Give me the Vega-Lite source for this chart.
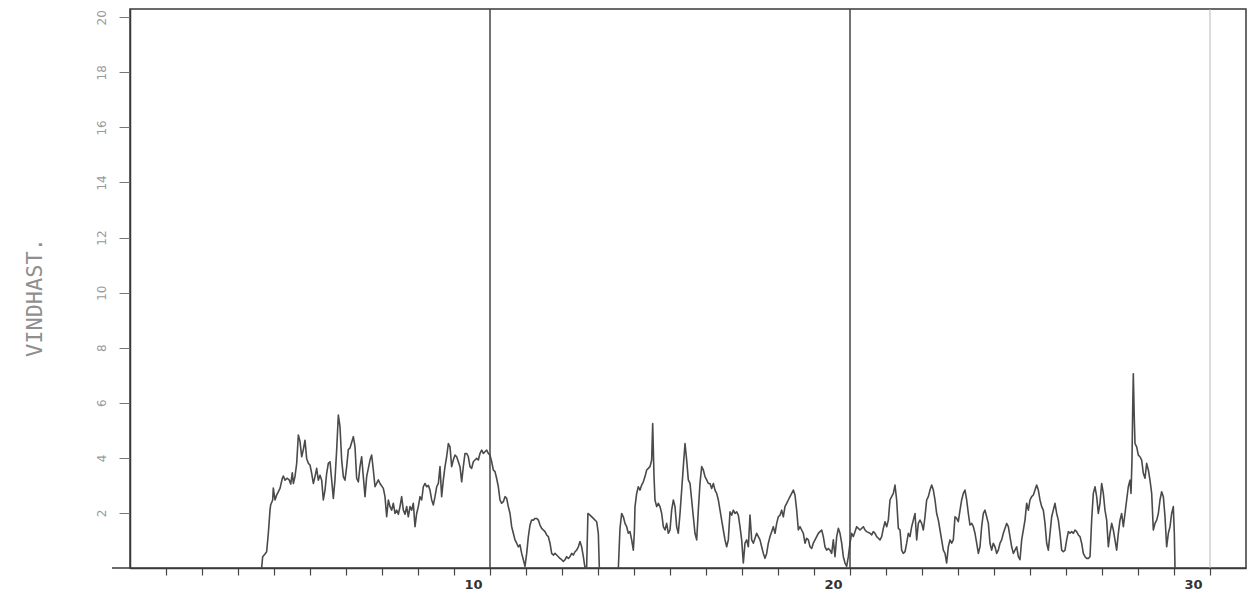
{
  "$schema": "https://vega.github.io/schema/vega-lite/v6.json",
  "width": 1116,
  "height": 559,
  "autosize": {"type": "none"},
  "padding": {"left": 130, "top": 9, "right": 8, "bottom": 32},
  "background": "white",
  "config": {"view": {"stroke": "#3a3a3a", "strokeWidth": 1.5}},
  "datasets": {
    "dividers": [{"day": 10}, {"day": 20}],
    "faint": [{"day": 30}],
    "stub": [{"a": -0.5, "b": 0}],
    "wind": [
      {"d":3.657,"v":0,"s":1},{"d":3.685,"v":0.41,"s":1},{"d":3.75,"v":0.51,"s":1},{"d":3.796,"v":0.59,"s":1},{"d":3.843,"v":1.27,"s":1},{"d":3.889,"v":2.1,"s":1},{"d":3.907,"v":2.29,"s":1},{"d":3.963,"v":2.47,"s":1},{"d":3.981,"v":2.9,"s":1},{"d":4.028,"v":2.47,"s":1},{"d":4.074,"v":2.65,"s":1},{"d":4.167,"v":2.89,"s":1},{"d":4.231,"v":3.26,"s":1},{"d":4.259,"v":3.34,"s":1},{"d":4.306,"v":3.19,"s":1},{"d":4.37,"v":3.26,"s":1},{"d":4.426,"v":3.19,"s":1},{"d":4.463,"v":3.05,"s":1},{"d":4.509,"v":3.46,"s":1},{"d":4.537,"v":3.07,"s":1},{"d":4.583,"v":3.32,"s":1},{"d":4.63,"v":3.8,"s":1},{"d":4.676,"v":4.83,"s":1},{"d":4.722,"v":4.6,"s":1},{"d":4.769,"v":4.04,"s":1},{"d":4.815,"v":4.3,"s":1},{"d":4.861,"v":4.64,"s":1},{"d":4.907,"v":3.98,"s":1},{"d":4.954,"v":3.8,"s":1},{"d":5.0,"v":3.74,"s":1},{"d":5.046,"v":3.44,"s":1},{"d":5.093,"v":3.07,"s":1},{"d":5.139,"v":3.32,"s":1},{"d":5.185,"v":3.62,"s":1},{"d":5.231,"v":3.19,"s":1},{"d":5.278,"v":3.37,"s":1},{"d":5.324,"v":3.19,"s":1},{"d":5.37,"v":2.47,"s":1},{"d":5.417,"v":2.83,"s":1},{"d":5.463,"v":3.44,"s":1},{"d":5.509,"v":3.8,"s":1},{"d":5.556,"v":3.86,"s":1},{"d":5.602,"v":3.19,"s":1},{"d":5.648,"v":2.53,"s":1},{"d":5.694,"v":3.2,"s":1},{"d":5.741,"v":4.3,"s":1},{"d":5.787,"v":5.55,"s":1},{"d":5.833,"v":5.13,"s":1},{"d":5.88,"v":3.92,"s":1},{"d":5.926,"v":3.32,"s":1},{"d":5.972,"v":3.19,"s":1},{"d":6.019,"v":3.68,"s":1},{"d":6.065,"v":4.3,"s":1},{"d":6.111,"v":4.36,"s":1},{"d":6.204,"v":4.77,"s":1},{"d":6.25,"v":4.4,"s":1},{"d":6.296,"v":3.26,"s":1},{"d":6.343,"v":3.13,"s":1},{"d":6.389,"v":3.68,"s":1},{"d":6.435,"v":4.04,"s":1},{"d":6.481,"v":3.32,"s":1},{"d":6.528,"v":2.59,"s":1},{"d":6.574,"v":3.32,"s":1},{"d":6.667,"v":3.92,"s":1},{"d":6.713,"v":4.1,"s":1},{"d":6.759,"v":3.56,"s":1},{"d":6.806,"v":2.95,"s":1},{"d":6.898,"v":3.2,"s":1},{"d":6.944,"v":3.07,"s":1},{"d":7.037,"v":2.89,"s":1},{"d":7.083,"v":2.59,"s":1},{"d":7.13,"v":1.86,"s":1},{"d":7.176,"v":2.47,"s":1},{"d":7.222,"v":2.23,"s":1},{"d":7.269,"v":2.1,"s":1},{"d":7.315,"v":2.35,"s":1},{"d":7.361,"v":1.98,"s":1},{"d":7.407,"v":2.1,"s":1},{"d":7.454,"v":1.95,"s":1},{"d":7.5,"v":2.23,"s":1},{"d":7.546,"v":2.59,"s":1},{"d":7.593,"v":2.1,"s":1},{"d":7.639,"v":1.95,"s":1},{"d":7.685,"v":2.23,"s":1},{"d":7.731,"v":1.86,"s":1},
      {"d":7.778,"v":2.23,"s":1},{"d":7.824,"v":2.1,"s":1},{"d":7.87,"v":2.35,"s":1},{"d":7.917,"v":1.5,"s":1},{"d":7.963,"v":1.98,"s":1},{"d":8.009,"v":2.23,"s":1},{"d":8.056,"v":2.59,"s":1},{"d":8.102,"v":2.47,"s":1},{"d":8.148,"v":2.95,"s":1},{"d":8.194,"v":3.07,"s":1},{"d":8.241,"v":2.95,"s":1},{"d":8.287,"v":3.0,"s":1},{"d":8.333,"v":2.83,"s":1},{"d":8.38,"v":2.47,"s":1},{"d":8.426,"v":2.29,"s":1},{"d":8.472,"v":2.59,"s":1},{"d":8.519,"v":2.95,"s":1},{"d":8.565,"v":3.07,"s":1},{"d":8.611,"v":3.68,"s":1},{"d":8.657,"v":2.59,"s":1},{"d":8.704,"v":3.2,"s":1},{"d":8.75,"v":3.68,"s":1},{"d":8.796,"v":4.04,"s":1},{"d":8.843,"v":4.52,"s":1},{"d":8.889,"v":4.4,"s":1},{"d":8.935,"v":3.68,"s":1},{"d":8.981,"v":3.92,"s":1},{"d":9.028,"v":4.1,"s":1},{"d":9.074,"v":4.04,"s":1},{"d":9.12,"v":3.86,"s":1},{"d":9.167,"v":3.68,"s":1},{"d":9.213,"v":3.13,"s":1},{"d":9.259,"v":3.68,"s":1},{"d":9.306,"v":4.16,"s":1},{"d":9.352,"v":4.16,"s":1},{"d":9.398,"v":4.04,"s":1},{"d":9.444,"v":3.68,"s":1},{"d":9.491,"v":3.62,"s":1},{"d":9.537,"v":3.86,"s":1},{"d":9.583,"v":3.92,"s":1},{"d":9.63,"v":3.98,"s":1},{"d":9.676,"v":3.92,"s":1},{"d":9.722,"v":4.16,"s":1},{"d":9.769,"v":4.28,"s":1},{"d":9.815,"v":4.16,"s":1},{"d":9.861,"v":4.22,"s":1},{"d":9.907,"v":4.28,"s":1},{"d":9.954,"v":4.16,"s":1},{"d":10.0,"v":4.1,"s":1},{"d":10.046,"v":3.86,"s":1},{"d":10.093,"v":3.56,"s":1},{"d":10.139,"v":3.5,"s":1},{"d":10.185,"v":3.25,"s":1},{"d":10.231,"v":2.95,"s":1},{"d":10.278,"v":2.47,"s":1},{"d":10.324,"v":2.35,"s":1},{"d":10.37,"v":2.41,"s":1},{"d":10.417,"v":2.59,"s":1},{"d":10.463,"v":2.53,"s":1},{"d":10.509,"v":2.23,"s":1},{"d":10.556,"v":1.98,"s":1},{"d":10.602,"v":1.5,"s":1},{"d":10.648,"v":1.26,"s":1},{"d":10.694,"v":1.02,"s":1},{"d":10.741,"v":0.9,"s":1},{"d":10.787,"v":0.77,"s":1},{"d":10.833,"v":0.84,"s":1},{"d":10.88,"v":0.53,"s":1},{"d":10.926,"v":0.3,"s":1},{"d":10.972,"v":0.06,"s":1},{"d":11.019,"v":0.53,"s":1},{"d":11.065,"v":1.14,"s":1},{"d":11.111,"v":1.56,"s":1},{"d":11.157,"v":1.74,"s":1},{"d":11.204,"v":1.74,"s":1},{"d":11.25,"v":1.8,"s":1},{"d":11.296,"v":1.8,"s":1},{"d":11.343,"v":1.74,"s":1},{"d":11.389,"v":1.56,"s":1},{"d":11.435,"v":1.44,"s":1},{"d":11.481,"v":1.38,"s":1},{"d":11.528,"v":1.32,"s":1},{"d":11.574,"v":1.2,"s":1},{"d":11.62,"v":1.14,"s":1},{"d":11.667,"v":0.9,"s":1},{"d":11.713,"v":0.53,"s":1},{"d":11.759,"v":0.47,"s":1},{"d":11.806,"v":0.53,"s":1},{"d":11.852,"v":0.47,"s":1},{"d":11.898,"v":0.41,"s":1},{"d":11.944,"v":0.35,"s":1},{"d":11.991,"v":0.3,"s":1},{"d":12.037,"v":0.24,"s":1},{"d":12.083,"v":0.3,"s":1},{"d":12.13,"v":0.41,"s":1},{"d":12.176,"v":0.35,"s":1},
      {"d":12.222,"v":0.41,"s":1},{"d":12.269,"v":0.53,"s":1},{"d":12.315,"v":0.47,"s":1},{"d":12.361,"v":0.59,"s":1},{"d":12.407,"v":0.65,"s":1},{"d":12.454,"v":0.77,"s":1},{"d":12.5,"v":0.96,"s":1},{"d":12.546,"v":0.77,"s":1},{"d":12.593,"v":0.41,"s":1},{"d":12.639,"v":0.0,"s":1},{"d":12.685,"v":0.05,"s":1},{"d":12.72,"v":1.98,"s":1},{"d":12.778,"v":1.92,"s":1},{"d":12.87,"v":1.8,"s":1},{"d":12.963,"v":1.68,"s":1},{"d":13.009,"v":1.26,"s":1},{"d":13.037,"v":0.0,"s":1},
      {"d":13.565,"v":0,"s":2},{"d":13.611,"v":1.44,"s":2},{"d":13.657,"v":1.98,"s":2},{"d":13.704,"v":1.86,"s":2},{"d":13.75,"v":1.62,"s":2},{"d":13.796,"v":1.5,"s":2},{"d":13.843,"v":1.26,"s":2},{"d":13.889,"v":1.32,"s":2},{"d":13.935,"v":1.02,"s":2},{"d":13.981,"v":0.65,"s":2},{"d":14.009,"v":1.26,"s":2},{"d":14.028,"v":2.23,"s":2},{"d":14.074,"v":2.71,"s":2},{"d":14.12,"v":2.95,"s":2},{"d":14.167,"v":2.83,"s":2},{"d":14.213,"v":3.01,"s":2},{"d":14.259,"v":3.13,"s":2},{"d":14.306,"v":3.32,"s":2},{"d":14.352,"v":3.56,"s":2},{"d":14.398,"v":3.62,"s":2},{"d":14.444,"v":3.68,"s":2},{"d":14.491,"v":3.92,"s":2},{"d":14.519,"v":5.25,"s":2},{"d":14.556,"v":3.32,"s":2},{"d":14.583,"v":2.47,"s":2},{"d":14.63,"v":2.23,"s":2},{"d":14.676,"v":2.35,"s":2},{"d":14.722,"v":2.23,"s":2},{"d":14.769,"v":1.98,"s":2},{"d":14.815,"v":1.5,"s":2},{"d":14.861,"v":1.38,"s":2},{"d":14.907,"v":1.62,"s":2},{"d":14.954,"v":1.26,"s":2},{"d":15.0,"v":1.38,"s":2},{"d":15.046,"v":2.1,"s":2},{"d":15.093,"v":2.47,"s":2},{"d":15.139,"v":2.23,"s":2},{"d":15.185,"v":1.5,"s":2},{"d":15.231,"v":1.26,"s":2},{"d":15.278,"v":1.98,"s":2},{"d":15.324,"v":2.83,"s":2},{"d":15.37,"v":3.68,"s":2},{"d":15.417,"v":4.52,"s":2},{"d":15.463,"v":3.92,"s":2},{"d":15.509,"v":3.2,"s":2},{"d":15.556,"v":3.07,"s":2},{"d":15.602,"v":2.47,"s":2},{"d":15.648,"v":1.86,"s":2},{"d":15.694,"v":1.26,"s":2},{"d":15.741,"v":1.02,"s":2},{"d":15.787,"v":2.1,"s":2},{"d":15.833,"v":3.07,"s":2},{"d":15.88,"v":3.68,"s":2},{"d":15.926,"v":3.56,"s":2},{"d":15.972,"v":3.32,"s":2},{"d":16.019,"v":3.2,"s":2},{"d":16.065,"v":3.07,"s":2},{"d":16.111,"v":3.07,"s":2},{"d":16.157,"v":2.89,"s":2},{"d":16.204,"v":3.07,"s":2},{"d":16.25,"v":2.83,"s":2},{"d":16.296,"v":2.71,"s":2},{"d":16.343,"v":2.47,"s":2},{"d":16.389,"v":2.1,"s":2},{"d":16.435,"v":1.74,"s":2},{"d":16.481,"v":1.38,"s":2},{"d":16.528,"v":1.02,"s":2},{"d":16.574,"v":0.77,"s":2},{"d":16.62,"v":1.02,"s":2},
      {"d":16.667,"v":2.04,"s":2},{"d":16.713,"v":1.92,"s":2},{"d":16.759,"v":2.1,"s":2},{"d":16.806,"v":1.98,"s":2},{"d":16.852,"v":2.04,"s":2},{"d":16.898,"v":1.92,"s":2},{"d":16.944,"v":1.5,"s":2},{"d":16.991,"v":1.02,"s":2},{"d":17.037,"v":0.18,"s":2},{"d":17.083,"v":0.9,"s":2},{"d":17.13,"v":1.02,"s":2},{"d":17.176,"v":0.77,"s":2},{"d":17.222,"v":1.92,"s":2},{"d":17.269,"v":1.02,"s":2},{"d":17.315,"v":0.9,"s":2},{"d":17.361,"v":1.08,"s":2},{"d":17.407,"v":1.26,"s":2},{"d":17.454,"v":1.14,"s":2},{"d":17.5,"v":1.02,"s":2},{"d":17.546,"v":0.77,"s":2},{"d":17.593,"v":0.53,"s":2},{"d":17.639,"v":0.35,"s":2},{"d":17.685,"v":0.53,"s":2},{"d":17.731,"v":0.9,"s":2},{"d":17.778,"v":1.14,"s":2},{"d":17.824,"v":1.32,"s":2},{"d":17.87,"v":1.5,"s":2},{"d":17.917,"v":1.26,"s":2},{"d":17.963,"v":1.62,"s":2},{"d":18.009,"v":1.86,"s":2},{"d":18.056,"v":1.92,"s":2},{"d":18.102,"v":2.1,"s":2},{"d":18.148,"v":1.86,"s":2},{"d":18.194,"v":2.23,"s":2},{"d":18.241,"v":2.35,"s":2},{"d":18.287,"v":2.47,"s":2},{"d":18.333,"v":2.59,"s":2},{"d":18.38,"v":2.71,"s":2},{"d":18.426,"v":2.83,"s":2},{"d":18.472,"v":2.65,"s":2},{"d":18.519,"v":2.1,"s":2},{"d":18.565,"v":1.38,"s":2},{"d":18.611,"v":1.5,"s":2},{"d":18.657,"v":1.38,"s":2},{"d":18.704,"v":1.26,"s":2},{"d":18.75,"v":0.9,"s":2},{"d":18.796,"v":1.08,"s":2},{"d":18.843,"v":1.02,"s":2},{"d":18.889,"v":0.77,"s":2},{"d":18.935,"v":0.71,"s":2},{"d":18.981,"v":0.9,"s":2},{"d":19.028,"v":1.02,"s":2},{"d":19.074,"v":1.14,"s":2},{"d":19.12,"v":1.26,"s":2},{"d":19.167,"v":1.32,"s":2},{"d":19.213,"v":1.38,"s":2},{"d":19.259,"v":1.14,"s":2},{"d":19.306,"v":0.77,"s":2},{"d":19.352,"v":0.65,"s":2},{"d":19.398,"v":0.71,"s":2},{"d":19.444,"v":0.65,"s":2},{"d":19.491,"v":0.53,"s":2},{"d":19.537,"v":1.02,"s":2},{"d":19.583,"v":0.41,"s":2},{"d":19.63,"v":1.14,"s":2},{"d":19.676,"v":1.44,"s":2},{"d":19.722,"v":1.26,"s":2},{"d":19.769,"v":0.9,"s":2},{"d":19.815,"v":0.41,"s":2},{"d":19.861,"v":0.18,"s":2},{"d":19.907,"v":0.06,"s":2},{"d":19.954,"v":0.41,"s":2},{"d":20.0,"v":0.9,"s":2},{"d":20.046,"v":1.26,"s":2},{"d":20.093,"v":1.14,"s":2},{"d":20.139,"v":1.32,"s":2},{"d":20.185,"v":1.5,"s":2},{"d":20.231,"v":1.44,"s":2},{"d":20.278,"v":1.38,"s":2},{"d":20.37,"v":1.5,"s":2},{"d":20.417,"v":1.38,"s":2},{"d":20.463,"v":1.32,"s":2},{"d":20.556,"v":1.26,"s":2},{"d":20.602,"v":1.2,"s":2},{"d":20.648,"v":1.32,"s":2},{"d":20.694,"v":1.26,"s":2},{"d":20.741,"v":1.14,"s":2},{"d":20.787,"v":1.08,"s":2},{"d":20.833,"v":1.02,"s":2},{"d":20.88,"v":1.14,"s":2},{"d":20.926,"v":1.44,"s":2},{"d":20.972,"v":1.68,"s":2},{"d":21.019,"v":1.5,"s":2},{"d":21.065,"v":1.74,"s":2},
      {"d":21.111,"v":2.47,"s":2},{"d":21.157,"v":2.59,"s":2},{"d":21.204,"v":2.71,"s":2},{"d":21.25,"v":3.01,"s":2},{"d":21.296,"v":2.47,"s":2},{"d":21.343,"v":1.44,"s":2},{"d":21.389,"v":1.38,"s":2},{"d":21.435,"v":0.65,"s":2},{"d":21.481,"v":0.53,"s":2},{"d":21.528,"v":0.59,"s":2},{"d":21.574,"v":0.9,"s":2},{"d":21.62,"v":1.26,"s":2},{"d":21.667,"v":1.14,"s":2},{"d":21.713,"v":1.5,"s":2},{"d":21.759,"v":1.74,"s":2},{"d":21.806,"v":1.98,"s":2},{"d":21.852,"v":1.02,"s":2},{"d":21.898,"v":1.62,"s":2},{"d":21.944,"v":1.74,"s":2},{"d":21.991,"v":1.62,"s":2},{"d":22.037,"v":1.38,"s":2},{"d":22.083,"v":1.86,"s":2},{"d":22.13,"v":2.47,"s":2},{"d":22.176,"v":2.59,"s":2},{"d":22.222,"v":2.83,"s":2},{"d":22.269,"v":3.01,"s":2},{"d":22.315,"v":2.83,"s":2},{"d":22.361,"v":2.47,"s":2},{"d":22.407,"v":1.98,"s":2},{"d":22.454,"v":1.74,"s":2},{"d":22.5,"v":1.38,"s":2},{"d":22.546,"v":1.02,"s":2},{"d":22.593,"v":0.65,"s":2},{"d":22.639,"v":0.53,"s":2},{"d":22.685,"v":0.18,"s":2},{"d":22.731,"v":0.77,"s":2},{"d":22.778,"v":1.02,"s":2},{"d":22.824,"v":0.9,"s":2},{"d":22.87,"v":1.02,"s":2},{"d":22.917,"v":1.86,"s":2},{"d":22.963,"v":1.8,"s":2},{"d":23.009,"v":1.68,"s":2},{"d":23.056,"v":2.1,"s":2},{"d":23.102,"v":2.47,"s":2},{"d":23.148,"v":2.71,"s":2},{"d":23.194,"v":2.83,"s":2},{"d":23.241,"v":2.47,"s":2},{"d":23.287,"v":1.98,"s":2},{"d":23.333,"v":1.56,"s":2},{"d":23.38,"v":1.62,"s":2},{"d":23.426,"v":1.5,"s":2},{"d":23.472,"v":1.26,"s":2},{"d":23.519,"v":0.9,"s":2},{"d":23.565,"v":0.53,"s":2},{"d":23.611,"v":0.77,"s":2},{"d":23.657,"v":1.5,"s":2},{"d":23.704,"v":1.98,"s":2},{"d":23.75,"v":2.1,"s":2},{"d":23.796,"v":1.86,"s":2},{"d":23.843,"v":1.62,"s":2},{"d":23.889,"v":0.9,"s":2},{"d":23.935,"v":0.65,"s":2},{"d":23.981,"v":0.9,"s":2},{"d":24.028,"v":0.77,"s":2},{"d":24.074,"v":0.53,"s":2},{"d":24.12,"v":0.65,"s":2},{"d":24.167,"v":0.9,"s":2},{"d":24.213,"v":1.02,"s":2},{"d":24.259,"v":1.26,"s":2},{"d":24.306,"v":1.44,"s":2},{"d":24.352,"v":1.62,"s":2},{"d":24.398,"v":1.5,"s":2},{"d":24.444,"v":1.14,"s":2},{"d":24.491,"v":0.77,"s":2},{"d":24.537,"v":0.53,"s":2},{"d":24.583,"v":0.65,"s":2},{"d":24.63,"v":0.77,"s":2},{"d":24.676,"v":0.41,"s":2},{"d":24.722,"v":0.3,"s":2},{"d":24.769,"v":1.02,"s":2},{"d":24.815,"v":1.38,"s":2},{"d":24.861,"v":1.74,"s":2},{"d":24.907,"v":2.35,"s":2},{"d":24.954,"v":2.1,"s":2},{"d":25.0,"v":2.47,"s":2},{"d":25.046,"v":2.59,"s":2},{"d":25.093,"v":2.65,"s":2},{"d":25.139,"v":2.83,"s":2},{"d":25.185,"v":3.01,"s":2},{"d":25.231,"v":2.83,"s":2},{"d":25.278,"v":2.47,"s":2},{"d":25.324,"v":2.23,"s":2},{"d":25.37,"v":2.1,"s":2},{"d":25.417,"v":1.62,"s":2},{"d":25.463,"v":0.9,"s":2},{"d":25.509,"v":0.65,"s":2},
      {"d":25.556,"v":1.26,"s":2},{"d":25.602,"v":1.86,"s":2},{"d":25.694,"v":2.35,"s":2},{"d":25.741,"v":1.98,"s":2},{"d":25.787,"v":1.74,"s":2},{"d":25.833,"v":1.26,"s":2},{"d":25.88,"v":0.65,"s":2},{"d":25.926,"v":0.59,"s":2},{"d":25.972,"v":0.65,"s":2},{"d":26.019,"v":1.02,"s":2},{"d":26.065,"v":1.32,"s":2},{"d":26.111,"v":1.26,"s":2},{"d":26.157,"v":1.32,"s":2},{"d":26.204,"v":1.26,"s":2},{"d":26.25,"v":1.38,"s":2},{"d":26.296,"v":1.32,"s":2},{"d":26.343,"v":1.2,"s":2},{"d":26.389,"v":1.14,"s":2},{"d":26.435,"v":0.9,"s":2},{"d":26.481,"v":0.53,"s":2},{"d":26.528,"v":0.41,"s":2},{"d":26.574,"v":0.35,"s":2},{"d":26.62,"v":0.35,"s":2},{"d":26.667,"v":0.41,"s":2},{"d":26.713,"v":1.74,"s":2},{"d":26.759,"v":2.71,"s":2},{"d":26.806,"v":2.95,"s":2},{"d":26.852,"v":2.59,"s":2},{"d":26.898,"v":1.98,"s":2},{"d":26.944,"v":2.35,"s":2},{"d":26.991,"v":3.07,"s":2},{"d":27.037,"v":2.71,"s":2},{"d":27.083,"v":2.1,"s":2},{"d":27.13,"v":1.74,"s":2},{"d":27.176,"v":0.77,"s":2},{"d":27.222,"v":1.26,"s":2},{"d":27.269,"v":1.62,"s":2},{"d":27.315,"v":1.38,"s":2},{"d":27.361,"v":1.02,"s":2},{"d":27.407,"v":0.65,"s":2},{"d":27.454,"v":1.26,"s":2},{"d":27.5,"v":1.74,"s":2},{"d":27.546,"v":1.98,"s":2},{"d":27.593,"v":1.5,"s":2},{"d":27.639,"v":1.98,"s":2},{"d":27.685,"v":2.47,"s":2},{"d":27.731,"v":2.95,"s":2},{"d":27.778,"v":3.19,"s":2},{"d":27.806,"v":2.71,"s":2},{"d":27.833,"v":3.92,"s":2},{"d":27.852,"v":5.73,"s":2},{"d":27.87,"v":7.05,"s":2},{"d":27.898,"v":5.37,"s":2},{"d":27.917,"v":4.52,"s":2},{"d":27.963,"v":4.4,"s":2},{"d":28.009,"v":4.1,"s":2},{"d":28.056,"v":4.04,"s":2},{"d":28.102,"v":3.92,"s":2},{"d":28.148,"v":3.44,"s":2},{"d":28.194,"v":3.26,"s":2},{"d":28.241,"v":3.8,"s":2},{"d":28.287,"v":3.56,"s":2},{"d":28.333,"v":3.19,"s":2},{"d":28.38,"v":2.71,"s":2},{"d":28.426,"v":1.38,"s":2},{"d":28.472,"v":1.62,"s":2},{"d":28.519,"v":1.74,"s":2},{"d":28.565,"v":1.98,"s":2},{"d":28.611,"v":2.47,"s":2},{"d":28.657,"v":2.77,"s":2},{"d":28.704,"v":2.59,"s":2},{"d":28.75,"v":1.86,"s":2},{"d":28.796,"v":0.77,"s":2},{"d":28.843,"v":1.26,"s":2},{"d":28.889,"v":1.5,"s":2},{"d":28.935,"v":1.98,"s":2},{"d":28.981,"v":2.23,"s":2},{"d":29.009,"v":1.26,"s":2},{"d":29.028,"v":0,"s":2}
    ]
  },
  "layer": [
    {
      "data": {"name": "wind"},
      "mark": {"type": "line", "color": "#4a4a4a", "strokeWidth": 1.6, "strokeJoin": "round"},
      "encoding": {
        "x": {
          "field": "d", "type": "quantitative",
          "scale": {"domain": [0, 31], "nice": false, "zero": false},
          "axis": {
            "values": [1,2,3,4,5,6,7,8,9,10,11,12,13,14,15,16,17,18,19,20,21,22,23,24,25,26,27,28,29,30],
            "tickCount": 60,
            "labelExpr": "datum.value % 10 == 0 ? format(datum.value, 'd') : ''",
            "title": null, "grid": false,
            "domainColor": "#3a3a3a", "domainWidth": 1.5,
            "tickSize": 7, "tickColor": "#444444", "tickWidth": 1.2,
            "labelFont": "DejaVu Sans", "labelFontWeight": "bold", "labelFontSize": 13,
            "labelColor": "#333333", "labelAlign": "right", "labelOffset": -8,
            "labelBaseline": "top", "labelPadding": 3,
            "labelFlush": false, "labelOverlap": false
          }
        },
        "y": {
          "field": "v", "type": "quantitative",
          "scale": {"domain": [0, 20.3], "nice": false, "zero": true},
          "axis": {
            "values": [2,4,6,8,10,12,14,16,18,20],
            "tickCount": 20,
            "labelExpr": "format(datum.value, 'd')",
            "grid": false,
            "domainColor": "#3a3a3a", "domainWidth": 1.5,
            "tickSize": 11, "tickColor": "#777777", "tickWidth": 1,
            "labelAngle": -90, "labelAlign": "center", "labelBaseline": "bottom",
            "labelPadding": 11,
            "labelFont": "DejaVu Sans", "labelFontSize": 12, "labelColor": "#9a9a9a",
            "title": "VINDHAST.",
            "titleFont": "DejaVu Sans Mono", "titleFontSize": 22, "titleFontWeight": "normal",
            "titleColor": "#8f8f8f", "titleAngle": -90,
            "titleX": -96, "titleY": 288, "titleAlign": "center", "titleBaseline": "middle"
          }
        },
        "detail": {"field": "s", "type": "nominal"}
      }
    },
    {
      "data": {"name": "faint"},
      "mark": {"type": "rule", "color": "#b8b8b8", "strokeWidth": 1},
      "encoding": {"x": {"field": "day", "type": "quantitative", "title": null}}
    },
    {
      "data": {"name": "dividers"},
      "mark": {"type": "rule", "color": "#444444", "strokeWidth": 1.5},
      "encoding": {"x": {"field": "day", "type": "quantitative", "title": null}}
    },
    {
      "data": {"name": "stub"},
      "mark": {"type": "rule", "color": "#3a3a3a", "strokeWidth": 1.5},
      "encoding": {
        "x": {"field": "a", "type": "quantitative", "title": null},
        "x2": {"field": "b"},
        "y": {"datum": 0, "type": "quantitative", "title": null}
      }
    }
  ]
}
